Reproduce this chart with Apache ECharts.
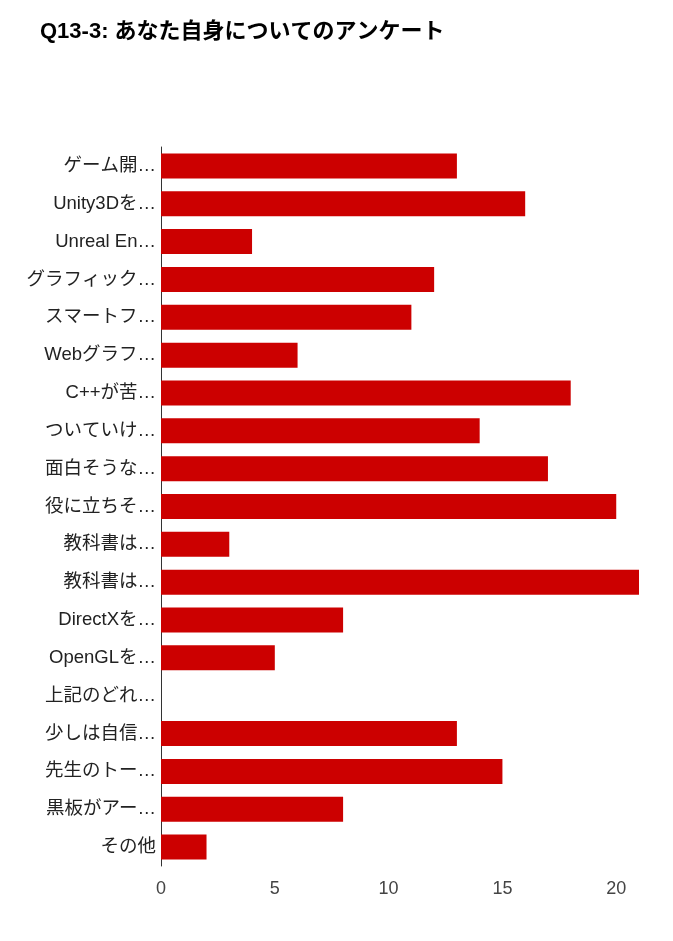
<!DOCTYPE html>
<html>
<head>
<meta charset="utf-8">
<title>Q13-3</title>
<script src="https://cdn.jsdelivr.net/npm/echarts@6/dist/echarts.min.js"></script>
<style>
html,body{margin:0;padding:0;background:#fff;}
#chart{width:673px;height:941px;}
</style>
</head>
<body>
<div id="chart"></div>
<script>
// 設問の選択肢(省略表示のまま)
var categories = [
    'ゲーム開…', 'Unity3Dを…', 'Unreal En…', 'グラフィック…', 'スマートフ…',
    'Webグラフ…', 'C++が苦…', 'ついていけ…', '面白そうな…', '役に立ちそ…',
    '教科書は…', '教科書は…', 'DirectXを…', 'OpenGLを…', '上記のどれ…',
    '少しは自信…', '先生のトー…', '黒板がアー…', 'その他'
];
// 回答数
var counts = [13, 16, 4, 12, 11, 6, 18, 14, 17, 20, 3, 21, 8, 5, 0, 13, 15, 8, 2];
var xTicks = [0, 5, 10, 15, 20];

var fontFamily = '"Liberation Sans", Arial, "Noto Sans CJK JP", sans-serif';
var chart = echarts.init(document.getElementById('chart'));
var option = {
    title: {
        text: 'Q13-3: あなた自身についてのアンケート',
        left: 40,
        top: 21,
        padding: 0,
        textStyle: {
            fontFamily: fontFamily,
            fontSize: 22,
            fontWeight: 'bold',
            color: '#000'
        }
    },
    grid: {
        left: 161,
        right: 34,
        top: 147,
        bottom: 75,
        containLabel: false
    },
    xAxis: {
        type: 'value',
        min: 0,
        max: 21,
        interval: 5,
        axisLine: {show: false},
        axisTick: {show: false},
        splitLine: {show: false},
        axisLabel: {
            margin: 14,
            fontFamily: fontFamily,
            fontSize: 18,
            color: '#444',
            formatter: function (v) {
                return xTicks.indexOf(v) >= 0 ? String(v) : '';
            }
        }
    },
    yAxis: {
        type: 'category',
        inverse: true,
        data: categories,
        axisLine: {lineStyle: {color: '#333', width: 1}},
        axisTick: {show: false},
        axisLabel: {
            margin: 5,
            fontFamily: fontFamily,
            fontSize: 18.5,
            color: '#222'
        }
    },
    series: [{
        type: 'bar',
        data: counts,
        barWidth: 25,
        itemStyle: {color: '#cc0000'},
        silent: true
    }],
    animation: false
};
chart.setOption(option);
</script>
</body>
</html>
